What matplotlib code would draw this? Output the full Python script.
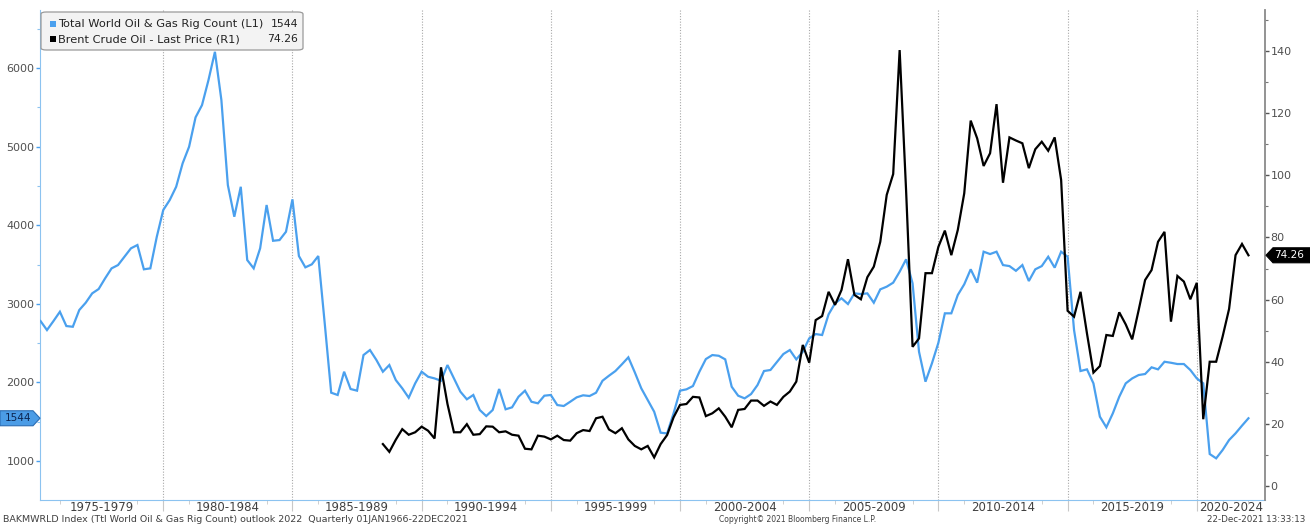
import numpy as np
import matplotlib
matplotlib.use("Agg")
import matplotlib.pyplot as plt
from matplotlib.patches import FancyBboxPatch, Polygon, Rectangle
from matplotlib.ticker import MultipleLocator, FixedLocator, NullFormatter

W, H, DPI = 1310, 525, 100

# ---- data -------------------------------------------------------------
# Quarterly values, plotted at quarter end (Q1 1975 -> 1975.25)
rig_first_quarter_end = 1975.25
rig_count = [
    2781, 2666, 2780, 2899,   # 1975
    2717, 2708, 2921, 3014,   # 1976
    3133, 3188, 3324, 3451,   # 1977
    3493, 3599, 3706, 3748,   # 1978
    3439, 3451, 3853, 4193,   # 1979
    4320, 4489, 4787, 4998,   # 1980
    5372, 5528, 5846, 6206,   # 1981
    5592, 4511, 4108, 4489,   # 1982
    3557, 3451, 3706, 4257,   # 1983
    3802, 3811, 3917, 4329,   # 1984
    3608, 3464, 3502, 3608,   # 1985
    2750, 1869, 1840, 2136,   # 1986
    1916, 1895, 2348, 2412,   # 1987
    2285, 2136, 2221, 2030,   # 1988
    1925, 1805, 1988, 2136,   # 1989
    2072, 2051, 2021, 2221,   # 1990
    2051, 1882, 1785, 1840,   # 1991
    1649, 1572, 1649, 1916,   # 1992
    1658, 1683, 1818, 1895,   # 1993
    1754, 1734, 1831, 1840,   # 1994
    1712, 1700, 1754, 1810,   # 1995
    1836, 1827, 1869, 2021,   # 1996
    2085, 2145, 2230, 2319,   # 1997
    2128, 1925, 1776, 1627,   # 1998
    1360, 1351, 1606, 1895,   # 1999
    1912, 1954, 2136, 2297,   # 2000
    2348, 2339, 2293, 1945,   # 2001
    1831, 1797, 1852, 1967,   # 2002
    2145, 2158, 2260, 2361,   # 2003
    2412, 2293, 2390, 2560,   # 2004
    2615, 2603, 2866, 3006,   # 2005
    3070, 2997, 3133, 3124,   # 2006
    3133, 3014, 3184, 3218,   # 2007
    3269, 3408, 3566, 3260,   # 2008
    2390, 2009, 2243, 2505,   # 2009
    2879, 2879, 3112, 3248,   # 2010
    3439, 3269, 3663, 3633,   # 2011
    3663, 3493, 3480, 3420,   # 2012
    3493, 3290, 3439, 3480,   # 2013
    3599, 3460, 3663, 3599,   # 2014
    2666, 2145, 2166, 1988,   # 2015
    1564, 1429, 1606, 1818,   # 2016
    1988, 2051, 2094, 2107,   # 2017
    2192, 2166, 2263, 2250,   # 2018
    2234, 2234, 2158, 2051,   # 2019
    1988, 1089, 1034, 1140,   # 2020
    1267, 1352, 1450, 1544,   # 2021
]

brent_first_quarter_end = 1988.5   # Q2 1988
brent = [
    13.5, 11.0, 14.9,              # 1988
    18.3, 16.5, 17.3, 19.1,        # 1989
    17.8, 15.3, 38.2, 26.4,        # 1990
    17.3, 17.3, 19.9, 16.5,        # 1991
    16.7, 19.2, 19.1, 17.3,        # 1992
    17.6, 16.5, 16.2, 12.0,        # 1993
    11.8, 16.2, 15.9, 15.0,        # 1994
    16.2, 14.8, 14.6, 17.0,        # 1995
    18.0, 17.7, 21.8, 22.3,        # 1996
    18.2, 17.0, 18.6, 15.0,        # 1997
    12.9, 11.8, 12.9, 9.2,         # 1998
    13.5, 16.4, 22.1, 26.1,        # 1999
    26.4, 28.7, 28.5, 22.5,        # 2000
    23.4, 25.0, 22.3, 18.9,        # 2001
    24.5, 24.8, 27.5, 27.5,        # 2002
    25.8, 27.2, 26.1, 28.7,        # 2003
    30.4, 33.6, 45.4, 39.7,        # 2004
    53.4, 54.7, 62.5, 58.3,        # 2005
    63.1, 73.0, 61.5, 60.1,        # 2006
    67.2, 70.6, 78.6, 93.7,        # 2007
    100.4, 140.3, 95.0, 44.8,      # 2008
    47.5, 68.5, 68.5, 77.0,        # 2009
    82.2, 74.3, 82.4, 94.2,        # 2010
    117.6, 111.9, 103.0, 107.1,    # 2011
    122.9, 97.6, 112.2, 111.2,     # 2012
    110.3, 102.3, 108.4, 110.8,    # 2013
    107.9, 112.2, 98.5, 56.4,      # 2014
    54.5, 62.5, 49.1, 36.5,        # 2015
    38.6, 48.6, 48.3, 55.9,        # 2016
    52.0, 47.2, 56.6, 66.3,        # 2017
    69.5, 78.6, 81.8, 52.9,        # 2018
    67.6, 65.8, 60.1, 65.4,        # 2019
    21.5, 40.0, 40.0, 48.1,        # 2020
    57.0, 74.3, 77.9, 74.26,       # 2021
]

period_starts = [1975, 1980, 1985, 1990, 1995, 2000, 2005, 2010, 2015, 2020]
period_labels = ["1975-1979", "1980-1984", "1985-1989", "1990-1994", "1995-1999",
                 "2000-2004", "2005-2009", "2010-2014", "2015-2019", "2020-2024"]

rig_name = "Total World Oil & Gas Rig Count (L1)"
brent_name = "Brent Crude Oil - Last Price (R1)"
rig_last_label = "1544"
brent_last_label = "74.26"

footer_left = ("BAKMWRLD Index (Ttl World Oil & Gas Rig Count) outlook 2022  "
               "Quarterly 01JAN1966-22DEC2021")
footer_mid = "Copyright\u00a9 2021 Bloomberg Finance L.P."
footer_right = "22-Dec-2021 13:33:13"

# ---- styling ----------------------------------------------------------
BLUE = "#4aa0ee"
BLUE_SPINE = "#8cc3f0"
TXT = "#505050"
XMIN, XMAX = 1975.23, 2022.64

rig_x = rig_first_quarter_end + 0.25 * np.arange(len(rig_count))
brent_x = brent_first_quarter_end + 0.25 * np.arange(len(brent))

fig = plt.figure(figsize=(W / DPI, H / DPI), dpi=DPI)
fig.patch.set_facecolor("white")
ax = fig.add_axes([40 / W, 1 - 500 / H, (1265 - 40) / W, 490 / H])
ax2 = ax.twinx()

ax.plot(rig_x, rig_count, color=BLUE, lw=1.6, solid_joinstyle="miter", zorder=3)
ax2.plot(brent_x, brent, color="black", lw=1.6, solid_joinstyle="miter", zorder=3)

ax.set_xlim(XMIN, XMAX)
ax.set_ylim(504, 6738)
ax2.set_ylim(-4.5, 153.2)

# vertical period separators
for s in period_starts[1:]:
    ax.axvline(s, color="#a8a8a8", lw=0.8, ls=(0, (1, 1.5)), zorder=1)

# spines
for a in (ax, ax2):
    a.spines["top"].set_visible(False)
ax.spines["left"].set_color(BLUE_SPINE)
ax.spines["bottom"].set_color(BLUE_SPINE)
ax.spines["right"].set_visible(False)
ax2.spines["left"].set_visible(False)
ax2.spines["bottom"].set_visible(False)
ax2.spines["right"].set_color("#8a8a8a")
ax2.spines["right"].set_linewidth(1.3)

# left axis ticks
ax.yaxis.set_major_locator(FixedLocator([1000, 2000, 3000, 4000, 5000, 6000]))
ax.yaxis.set_minor_locator(MultipleLocator(500))
ax.tick_params(axis="y", which="major", length=3, width=1, color=BLUE,
               labelsize=8, labelcolor=TXT, pad=1)
ax.tick_params(axis="y", which="minor", length=2, width=0.8, color=BLUE_SPINE)

# right axis ticks
ax2.yaxis.set_major_locator(FixedLocator(list(range(0, 141, 20))))
ax2.yaxis.set_minor_locator(MultipleLocator(10))
ax2.tick_params(axis="y", which="major", length=3, width=1, color="#555555",
                labelsize=8, labelcolor=TXT, pad=1)
ax2.tick_params(axis="y", which="minor", length=2, width=0.8, color="#777777")

# x axis: period boundaries and yearly minor ticks, labels centred in periods
ax.xaxis.set_major_locator(FixedLocator(period_starts[1:]))
ax.xaxis.set_major_formatter(NullFormatter())
ax.xaxis.set_minor_locator(MultipleLocator(1))
ax.tick_params(axis="x", which="major", length=8, width=0.8, color="#c8c8c8")
ax.tick_params(axis="x", which="minor", length=3, width=0.6, color="#c8c8c8")

for s, lab in zip(period_starts, period_labels):
    lo, hi = max(s, XMIN), min(s + 5, XMAX)
    ax.text((lo + hi) / 2, -1.2 / 490, lab, transform=ax.get_xaxis_transform(),
            ha="center", va="top", fontsize=8.5, color="#404040")

# footer
fig.text(3 / W, 1 - 519 / H, footer_left, fontsize=6.8, color="#404040", va="center", ha="left")
fig.text(798 / W, 1 - 519 / H, footer_mid, fontsize=5.5, color="#404040", va="center", ha="center")
fig.text(1305 / W, 1 - 519 / H, footer_right, fontsize=6.3, color="#404040", va="center", ha="right")

# legend box
def fpt(px, py):
    return px / W, 1 - py / H

x0, y0 = fpt(41, 50)
x1, y1 = fpt(303, 12)
fig.patches.append(FancyBboxPatch((x0, y0), x1 - x0, y1 - y0,
                                  boxstyle="round,pad=0,rounding_size=0.004",
                                  transform=fig.transFigure, fc="#f3f3f3",
                                  ec="#9a9a9a", lw=0.9, zorder=5))
for i, (name, val, col) in enumerate([(rig_name, rig_last_label, BLUE),
                                       (brent_name, brent_last_label, "black")]):
    yc = 24 + i * 15
    sx, sy = fpt(49.5, yc + 3)
    fig.patches.append(Rectangle((sx, sy), 6 / W, 6 / H, transform=fig.transFigure,
                                 fc=col, ec="none", zorder=6))
    tx, ty = fpt(58, yc)
    fig.text(tx, ty, name, fontsize=8.2, color="#222222", va="center", ha="left", zorder=7)
    vx, vy = fpt(298, yc)
    fig.text(vx, vy, val, fontsize=7.8, color="#222222", va="center", ha="right", zorder=7)

# last-value tags on both axes
rig_last = rig_count[-1]
brent_last = brent[-1]
ypx_rig = H - ax.transData.transform((XMIN, rig_last))[1]
ypx_brent = H - ax2.transData.transform((XMIN, brent_last))[1]

hh = 7.5
pts = [fpt(0, ypx_rig - hh), fpt(33, ypx_rig - hh), fpt(40, ypx_rig),
       fpt(33, ypx_rig + hh), fpt(0, ypx_rig + hh)]
fig.patches.append(Polygon(pts, closed=True, transform=fig.transFigure,
                           fc="#4b9ce6", ec="#2a6cb3", lw=0.8, zorder=6))
tx, ty = fpt(18, ypx_rig)
fig.text(tx, ty, rig_last_label, fontsize=7.5, color="#0c2550", ha="center", va="center", zorder=7)

pts = [fpt(1266, ypx_brent), fpt(1273, ypx_brent - hh), fpt(1310, ypx_brent - hh),
       fpt(1310, ypx_brent + hh), fpt(1273, ypx_brent + hh)]
fig.patches.append(Polygon(pts, closed=True, transform=fig.transFigure,
                           fc="black", ec="black", lw=0.8, zorder=6))
tx, ty = fpt(1289, ypx_brent)
fig.text(tx, ty, brent_last_label, fontsize=7.5, color="white", ha="center", va="center", zorder=7)

fig.savefig("out.png", dpi=DPI, facecolor="white")
